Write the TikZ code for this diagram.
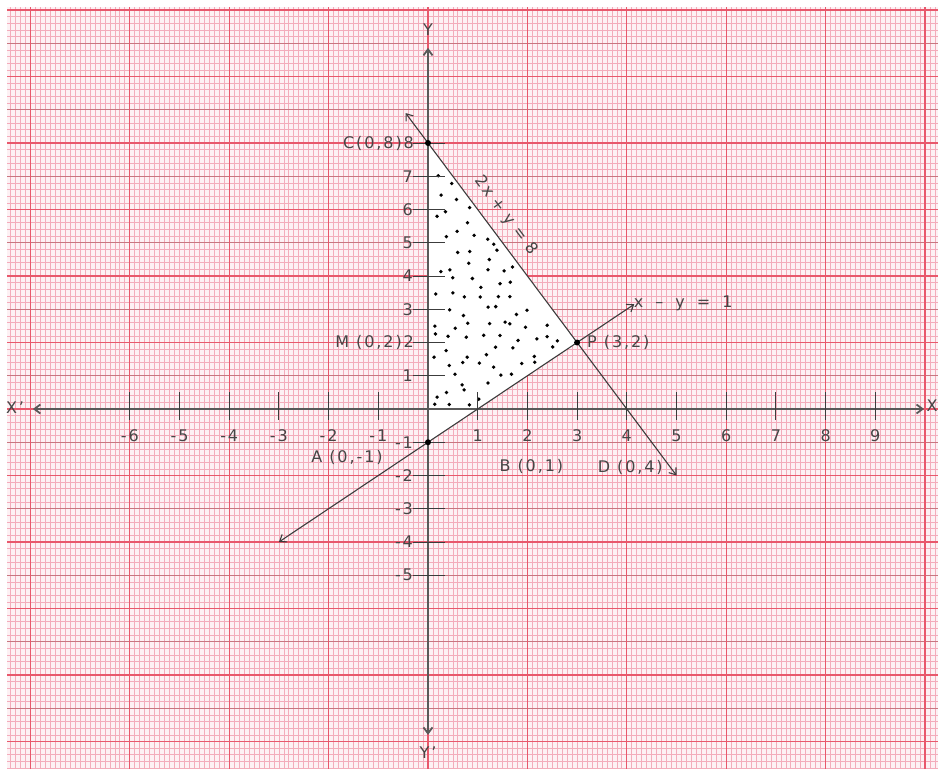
\documentclass[tikz,border=0pt]{standalone}
\usepackage{fontspec}
\setmainfont{DejaVu Sans}[LetterSpace=12]
\usetikzlibrary{arrows.meta}
\definecolor{paper}{RGB}{253,241,244}
\definecolor{fineline}{RGB}{243,172,187}
\definecolor{majorline}{RGB}{232,88,108}
\definecolor{midline}{RGB}{200,118,128}
\definecolor{ink}{RGB}{60,60,60}
\definecolor{txt}{RGB}{70,70,70}
\begin{document}
\begin{tikzpicture}[x=49.7pt,y=33.25pt,
  lbl/.style={font=\fontsize{16}{16}\selectfont, text=txt, inner sep=0pt},
  barbs/.style={{Straight Barb[length=6pt,width=9pt]}-{Straight Barb[length=6pt,width=9pt]}},
  graphline/.style={draw=ink, line width=1.1pt, barbs},
  axisline/.style={draw=ink!85, line width=1.8pt, barbs},
  tickmark/.style={draw=ink, line width=1pt},
  dotmark/.style={fill=black},
]
\fill[white] (-8.6117,-10.827) rectangle (10.2616,12.301);
\useasboundingbox (-8.6117,-10.827) rectangle (10.2616,12.301);
% graph paper
\begin{scope}
\clip (-8.47,-10.827) rectangle (10.2616,12.09);
\fill[paper] (-8.6,-11) rectangle (10.4,12.4);
\draw[fineline, line width=0.7pt, xstep=0.1, ystep=0.2] (-8.6,-11) grid (10.4,12.4);
\foreach \yy in {-11,-9,...,11} \draw[midline, line width=1pt] (-8.6,\yy) -- (10.4,\yy);
\foreach \yy in {-10,-8,...,12} \draw[majorline, line width=1.3pt] (-8.6,\yy) -- (10.4,\yy);
\foreach \xx in {-8,-6,...,10} \draw[majorline, line width=1.3pt] (\xx,-11) -- (\xx,12.4);
\end{scope}
% key points
\coordinate (C) at (0,8);
\coordinate (P) at (3,2);
\coordinate (A) at (0,-1);
\coordinate (L1a) at (-0.45,8.9);
\coordinate (L1b) at (5,-2);
\coordinate (L2a) at (-3,-4);
\coordinate (L2b) at (4.15,3.15);
\coordinate (XL) at (-7.95,0);
\coordinate (XR) at (9.98,0);
\coordinate (YT) at (0,10.86);
\coordinate (YB) at (0,-9.8);
% feasible region
\fill[white] (A) -- (C) -- (P) -- cycle;
\pgfmathsetseed{4242}
\foreach \gx in {0.16,0.48,...,2.9}{
  \foreach \gy in {-0.8,-0.38,...,7.9}{
    \pgfmathsetmacro{\rx}{\gx+0.26*(rnd-0.5)}
    \pgfmathsetmacro{\ry}{\gy+0.34*(rnd-0.5)}
    \pgfmathtruncatemacro{\ok}{(\rx>0.12)*(\ry<7.74-2*\rx)*(\ry>\rx-0.8)}
    \ifnum\ok=1 \fill[dotmark] (\rx,\ry) circle[radius=1.9pt]; \fi
  }
}
% axes
\draw[axisline] (XL) -- (XR);
\draw[axisline] (YB) -- (YT);
\foreach \xx in {-6,-5,-4,-3,-2,-1,1,2,3,4,5,6,7,8,9}{
  \draw[tickmark] (\xx,0.5) -- (\xx,-0.33);
  \node[lbl] (xl\xx) at (\xx,-0.8) {\xx};
}
\foreach \yy in {-5,-4,-3,-2,-1,1,2,3,4,5,6,7,8}{
  \draw[tickmark] (-0.3,\yy) -- (0.35,\yy);
}
\foreach \yy in {-5,-4,-3,-2,-1,1,3,4,5,6,7}{
  \node[lbl, anchor=east] (yl\yy) at (-0.3,\yy) {\yy};
}
% lines
\draw[graphline] (L1a) -- (L1b);
\draw[graphline] (L2a) -- (L2b);
\fill[dotmark] (C) circle[radius=3pt];
\fill[dotmark] (P) circle[radius=3pt];
\fill[dotmark] (A) circle[radius=3pt];
% labels
\node[lbl, anchor=east] (labC) at (-0.28,8) {C(0,8)8};
\node[lbl, anchor=east] (labM) at (-0.28,2) {M (0,2)2};
\node[lbl, anchor=west] (labP) at (3.2,2) {P (3,2)};
\node[lbl] (labA) at (-1.63,-1.47) {A (0,-1)};
\node[lbl] (labB) at (2.08,-1.74) {B (0,1)};
\node[lbl] (labD) at (4.07,-1.77) {D (0,4)};
\node[lbl, anchor=west] (labL2) at (4.14,3.18) {\spaceskip=0.75em x – y = 1};
\node[lbl, rotate=-53.2] (labL1) at (1.56,5.82) {\spaceskip=0.4em 2x + y = 8};
\node[lbl] (labXp) at (-8.31,0.05) {X'};
\node[lbl, anchor=west] (labX) at (10.03,0.1) {X};
\node[lbl] (labY) at (0,11.4) {Y};
\node[lbl] (labYp) at (0,-10.35) {Y'};
\end{tikzpicture}
\end{document}
